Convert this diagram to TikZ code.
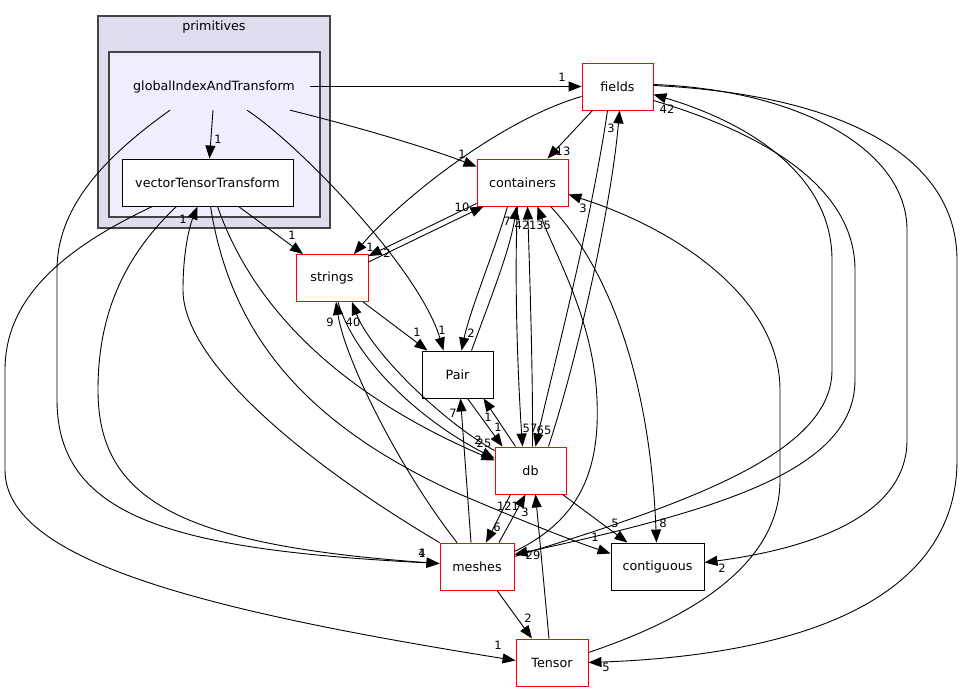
\documentclass[tikz,border=0pt]{standalone}
\usepackage{fontspec}
\setmainfont{DejaVu Sans}
\usepackage{tikz}
\usetikzlibrary{arrows.meta}

\definecolor{outerfill}{HTML}{DDDDEE}
\definecolor{innerfill}{HTML}{EEEEFF}
\definecolor{clusterline}{HTML}{444444}

\begin{document}
\begin{tikzpicture}[x=1pt, y=-1pt,
  every node/.append style={font=\fontsize{12.7}{14}\selectfont},
  reddir/.style={draw=red, fill=white, line width=0.9pt, minimum height=47pt, inner sep=0pt},
  plaindir/.style={draw=black, fill=white, line width=0.9pt, minimum height=47pt, inner sep=0pt},
  dep/.style={-{Triangle[length=13pt,width=10pt]}, line width=0.9pt},
  num/.style={font=\fontsize{11.5}{12}\selectfont, inner sep=0pt}]
\useasboundingbox (0,0) rectangle (963,692);

\filldraw [fill=outerfill, draw=clusterline, line width=1.5pt] (98,16) rectangle (330,228);
\node (primlbl) at (214,27) {primitives};
\filldraw [fill=innerfill, draw=clusterline, line width=1.5pt] (109,52) rectangle (320,217);
\node [minimum width=192pt, minimum height=47pt, inner sep=0pt] (giat) at (214,86.5) {globalIndexAndTransform};

\node [plaindir, minimum width=171pt] (vtt) at (207.5,182.5) {vectorTensorTransform};
\node [reddir, minimum width=71pt] (fields) at (617.5,86.5) {fields};
\node [reddir, minimum width=91pt] (containers) at (522.5,182.5) {containers};
\node [reddir, minimum width=72pt] (strings) at (332,278) {strings};
\node [plaindir, minimum width=71pt] (pair) at (457.5,374.5) {Pair};
\node [reddir, minimum width=71pt] (db) at (530.5,470.5) {db};
\node [reddir, minimum width=74pt] (meshes) at (477,566.5) {meshes};
\node [plaindir, minimum width=93pt] (contiguous) at (657.5,566.5) {contiguous};
\node [reddir, minimum width=72pt] (tensor) at (552,662.5) {Tensor};

\draw [dep] (giat.east) -- (fields.west); \node [num] (lgf) at (562,77) {1};
\draw [dep] ([xshift=-1pt]giat.south) -- ([xshift=2pt]vtt.north); \node [num] (lgv) at (218,139) {1};
\draw [dep] ([xshift=76pt]giat.south) .. controls (350,125) and (420,145) .. ([yshift=16pt]containers.west); \node [num] (lgc) at (462,154) {1};
\draw [dep] ([xshift=33pt]giat.south) .. controls (300,145) and (420,270) .. ([xshift=-14pt]pair.north); \node [num] (lgp) at (442,330) {1};
\draw [dep] ([xshift=-44pt]giat.south) .. controls (100,160) and (57,210) .. (57,270) -- (57,400) .. controls (57,520) and (180,550) .. ([yshift=3pt]meshes.west); \node [num] (lgm) at (422,553) {1};

\draw [dep] ([xshift=-31pt]vtt.south) .. controls (120,260) and (98,320) .. (98,390) .. controls (98,500) and (180,545) .. ([yshift=3pt]meshes.west); \node [num] (lvm) at (422,553) {4};
\draw [dep] (meshes.north west) .. controls (300,460) and (183,360) .. (183,290) .. controls (183,250) and (190,225) .. ([xshift=-10pt]vtt.south); \node [num] (lmv) at (183,219) {1};
\draw [dep] ([xshift=31pt]vtt.south) -- ([xshift=-29pt]strings.north); \node [num] (lvs) at (292,235) {1};
\draw [dep] ([xshift=10pt]vtt.south) .. controls (250,300) and (330,390) .. ([yshift=10pt]db.west); \node [num] (lvd) at (484,443) {25};
\draw [dep] ([xshift=3pt]vtt.south) .. controls (230,330) and (300,420) .. (450,490) .. controls (520,520) and (570,540) .. ([yshift=13pt]contiguous.west); \node [num] (lvc) at (595,537) {1};
\draw [dep] ([xshift=-55pt]vtt.south) .. controls (60,250) and (5,300) .. (5,370) -- (5,470) .. controls (5,560) and (200,610) .. ([yshift=2pt]tensor.west); \node [num] (lvt) at (498,645) {1};

\draw [dep] ([xshift=6pt]strings.south) .. controls (355,360) and (420,420) .. ([yshift=12pt]db.west); \node [num] (lsd) at (478,440) {2};
\draw [dep] ([yshift=-4pt]db.north west) .. controls (440,420) and (370,350) .. ([xshift=20pt]strings.south); \node [num] (lds) at (353,322) {40};
\draw [dep] ([xshift=-20pt]meshes.north) .. controls (400,470) and (345,360) .. ([xshift=4pt]strings.south); \node [num] (lms) at (330,322) {9};
\draw [dep] ([yshift=-10pt]fields.west) .. controls (500,120) and (400,200) .. ([xshift=22pt]strings.north); \node [num] (lfs) at (370,247) {1};
\draw [dep] ([yshift=3pt]containers.south west) -- ([yshift=-2pt]strings.north east); \node [num] (lcs) at (387,253) {2};
\draw [dep] ([yshift=16pt]strings.east) -- ([xshift=-39pt]containers.south); \node [num] (lsc) at (462,207) {10};
\draw [dep] ([xshift=31pt]strings.south) -- ([xshift=-30pt]pair.north); \node [num] (lsp) at (417,332) {1};

\draw [dep] ([xshift=-15pt]containers.south) .. controls (495,250) and (470,310) .. ([xshift=4pt]pair.north); \node [num] (lcp) at (471,333) {2};
\draw [dep] ([xshift=14pt]pair.north) .. controls (490,300) and (510,250) .. ([xshift=-6pt]containers.south); \node [num] (lpc) at (507,221) {7};
\draw [dep] ([xshift=-5pt]containers.south) .. controls (514,280) and (518,380) .. ([xshift=-8pt]db.north); \node [num] (lcd) at (530,428) {57};
\draw [dep] ([xshift=2pt]db.north) .. controls (533,380) and (530,280) .. ([xshift=5pt]containers.south); \node [num] (ldc) at (522,225) {42};
\draw [dep] ([yshift=15pt]meshes.east) .. controls (580,520) and (600,470) .. (597,400) .. controls (594,320) and (555,255) .. ([xshift=15pt]containers.south); \node [num] (lmc) at (540,225) {135};
\draw [dep] ([yshift=10pt]tensor.east) .. controls (700,615) and (780,560) .. (780,480) -- (780,390) .. controls (780,300) and (680,230) .. ([yshift=-12pt]containers.east); \node [num] (ltc) at (583,208) {3};
\draw [dep] ([xshift=28pt]containers.south) .. controls (610,270) and (650,380) .. ([xshift=-1pt]contiguous.north); \node [num] (lcg) at (663,523) {8};

\draw [dep] ([xshift=-25pt]fields.south) -- ([xshift=25pt]containers.north); \node [num] (lfc) at (563,151) {13};
\draw [dep] ([xshift=-10pt]fields.south) .. controls (590,230) and (550,380) .. ([xshift=5pt]db.north); \node [num] (lfd) at (544,430) {65};
\draw [dep] ([xshift=18pt]db.north) .. controls (580,350) and (612,200) .. ([xshift=2pt]fields.south); \node [num] (ldf) at (611,128) {3};
\draw [dep] ([yshift=2pt]fields.east) .. controls (800,90) and (907,150) .. (907,230) -- (907,440) .. controls (907,520) and (800,550) .. ([yshift=4pt]contiguous.east); \node [num] (lfg) at (722,568) {2};
\draw [dep] ([yshift=1pt]fields.east) .. controls (850,95) and (957,160) .. (957,260) -- (957,460) .. controls (957,600) and (800,655) .. (tensor.east); \node [num] (lft) at (606,667) {5};
\draw [dep] ([yshift=10pt]meshes.east) .. controls (700,500) and (832,450) .. (832,370) -- (832,260) .. controls (832,170) and (740,120) .. ([yshift=-8pt]fields.east); \node [num] (lmf) at (667,109) {42};
\draw [dep] ([yshift=-14pt]fields.east) .. controls (770,135) and (855,190) .. (855,270) -- (855,380) .. controls (855,470) and (720,510) .. ([yshift=12pt]meshes.east); \node [num] (lfm) at (533,555) {29};

\draw [dep] ([xshift=10pt]pair.south) -- ([xshift=-28pt]db.north); \node [num] (lpd) at (498,427) {1};
\draw [dep] ([xshift=-15pt]db.north) -- ([xshift=26pt]pair.south); \node [num] (ldp) at (488,417) {1};
\draw [dep] ([xshift=-6pt]meshes.north) -- ([xshift=3pt]pair.south); \node [num] (lmp) at (453,413) {7};
\draw [dep] ([xshift=-20pt]db.south) -- ([xshift=9pt]meshes.north); \node [num] (ldm) at (497,527) {6};
\draw [dep] ([xshift=22pt]meshes.north) -- ([xshift=-5pt]db.south); \node [num] (lmd) at (508,506) {121};
\draw [dep] ([xshift=-3pt]tensor.north) -- ([xshift=5pt]db.south); \node [num] (ltd) at (525,512) {3};
\draw [dep] ([xshift=32pt]db.south) -- ([xshift=-30pt]contiguous.north); \node [num] (ldg) at (615,523) {5};
\draw [dep] ([xshift=20pt]meshes.south) -- ([xshift=-20pt]tensor.north); \node [num] (lmt) at (528,618) {2};
\end{tikzpicture}
\end{document}
